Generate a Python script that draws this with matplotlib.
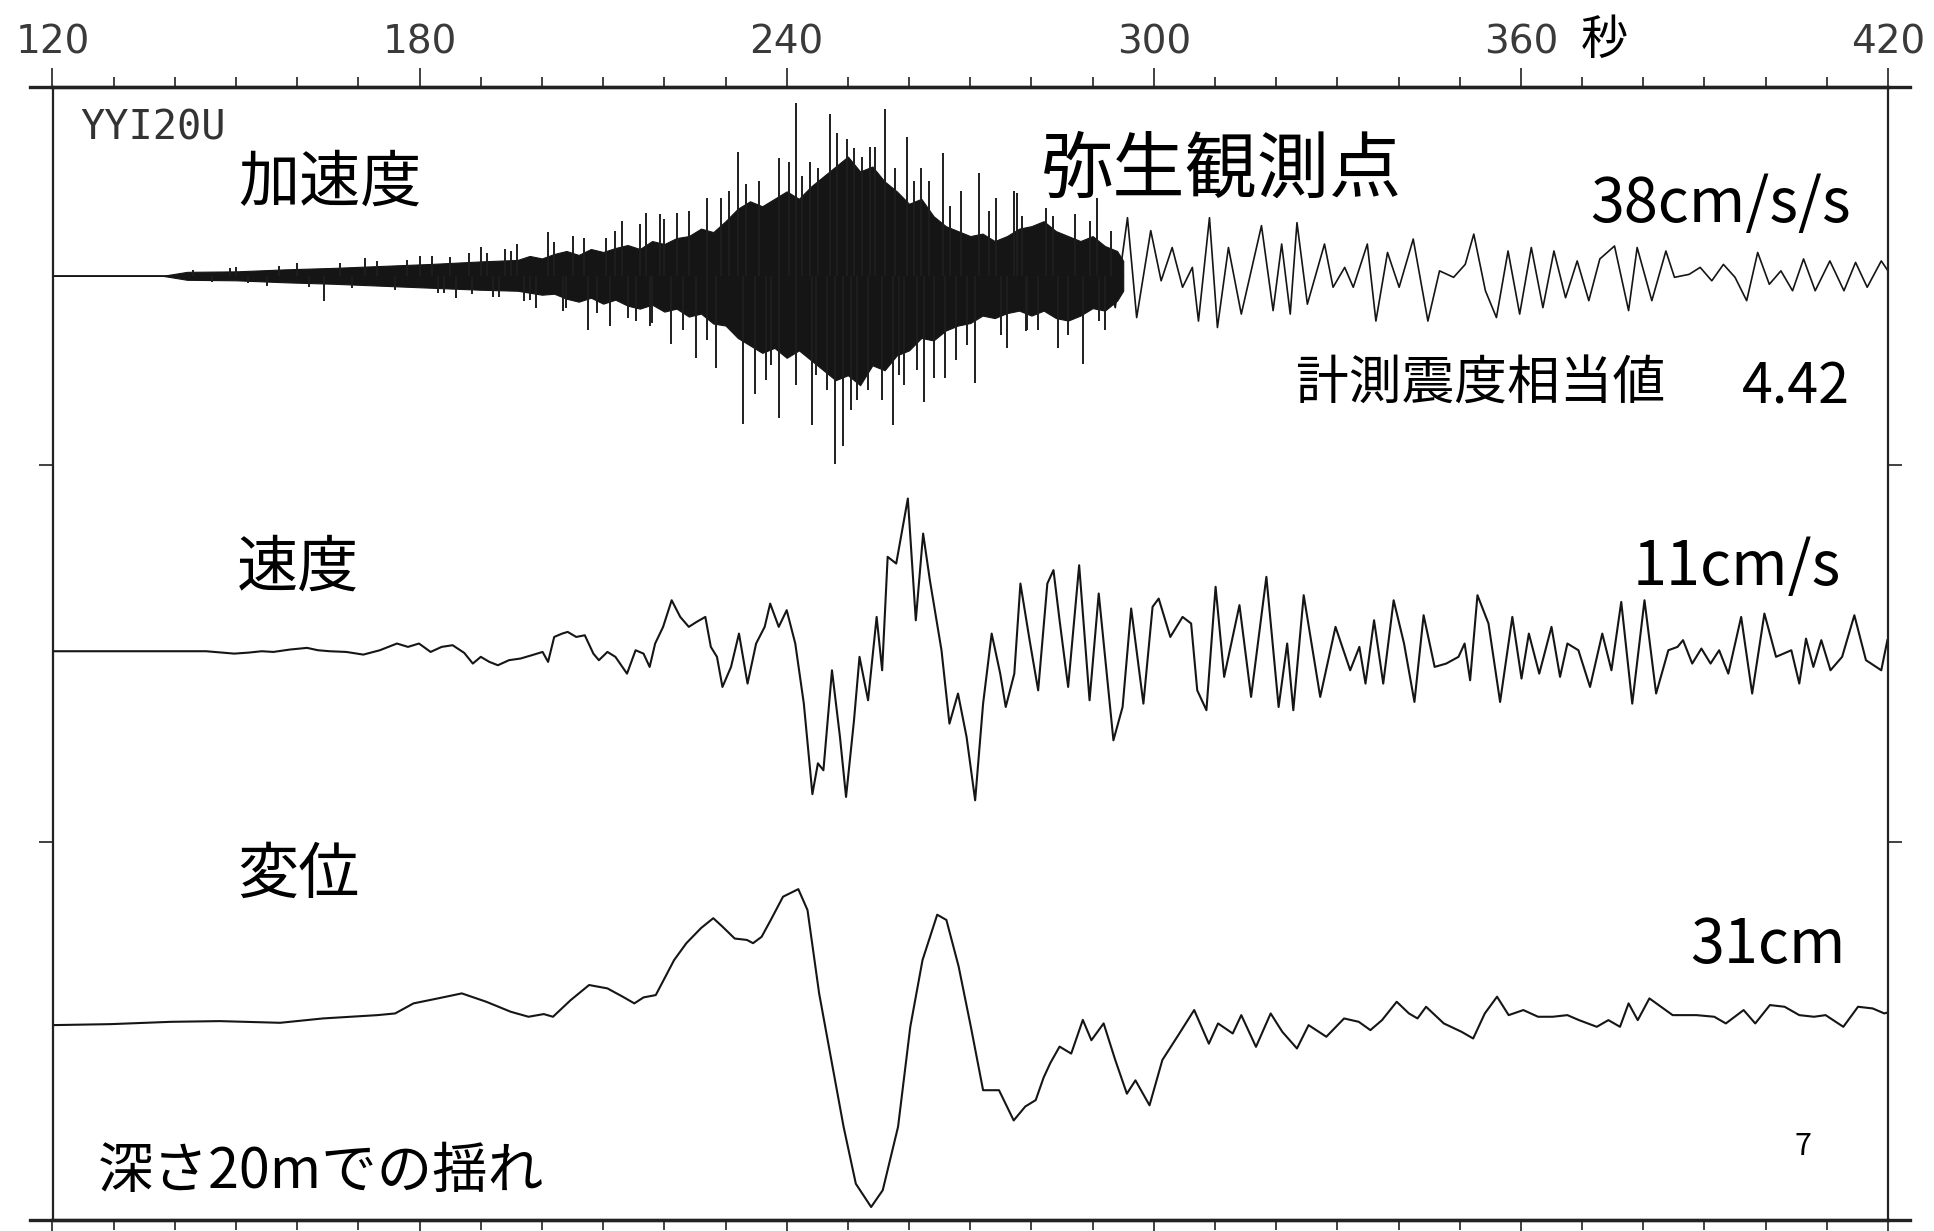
import numpy as np
import matplotlib.pyplot as plt

plt.rcParams['font.family'] = ['Noto Sans CJK JP', 'DejaVu Sans']

# ---- acceleration (cm/s/s) ----
# dense part: envelope of the black band
acc_env_t = [120, 138, 142, 150, 158, 166, 174, 182, 190, 196, 198, 200, 202, 204, 206,
             208, 210, 212, 214, 216, 218, 220, 222, 224, 226, 228, 230, 232, 234, 236,
             238, 240, 242, 244, 246, 248, 250, 252, 254, 256, 258, 260, 262, 264, 266,
             268, 270, 272, 274, 276, 278, 280, 282, 284, 286, 288, 290, 292, 294, 295]
acc_env_hi = [0, 0, 0.8, 0.9, 1.3, 1.6, 2.0, 2.4, 2.9, 3.2, 4.0, 3.5, 4.4, 5.0, 4.2,
              5.4, 4.8, 5.6, 6.2, 5.4, 7.0, 6.4, 7.6, 8.0, 9.5, 8.8, 11.0, 13.5, 15.0, 14.0,
              15.5, 17.0, 15.5, 18.0, 20.0, 22.0, 24.0, 21.0, 22.0, 19.0, 17.0, 14.5, 15.5, 12.0, 10.0,
              9.0, 8.0, 8.5, 7.0, 8.0, 9.5, 10.0, 11.0, 9.0, 8.0, 7.0, 8.0, 6.0, 5.0, 3.0]
acc_env_lo = [0, 0, -0.8, -0.9, -1.3, -1.6, -2.0, -2.4, -2.8, -3.0, -3.4, -3.8, -3.6, -4.6, -5.2,
              -4.4, -5.6, -4.8, -6.0, -6.6, -5.8, -7.2, -6.6, -8.2, -7.6, -9.6, -10.0, -12.5, -14.0, -15.5,
              -14.5, -16.5, -15.0, -17.0, -19.0, -21.0, -20.0, -22.0, -18.0, -19.0, -16.0, -15.0, -12.5, -13.0, -11.0,
              -10.0, -9.5, -8.0, -8.5, -7.5, -7.0, -8.0, -7.0, -8.5, -9.0, -8.0, -6.5, -7.0, -5.0, -3.0]
# single spikes sticking out of the band
acc_spk_t = [150, 155, 160, 164.3, 171, 180, 186, 190, 196, 199, 201, 203.5, 213, 217, 222,
             241.5, 247.0, 256.0, 232.0, 238.8, 240.4, 248.3, 249.8, 251.0, 253.6, 254.5,
             259.6, 265.5, 271.4, 277.6, 274.2, 282.4, 290.7, 226.9, 229.3, 230.5, 233.4,
             243.8, 245.1, 257.7, 262.0, 268.5, 263.2, 219.3, 206.8, 210.5,
             247.9, 232.9, 238.8, 244.1, 249.2, 251.5, 257.4, 255.6, 262.5, 265.9, 270.8,
             288.5, 284.3, 276.0, 279.3, 292.0, 225.1, 228.4, 234.9, 236.6, 241.6, 246.6,
             253.3, 259.1, 264.1, 267.6, 207.6, 211.2, 215.3, 221.1, 217.6,
             277.2, 287.1, 279.1,
             182, 184, 188, 192, 194, 197, 202, 204, 205, 209, 212, 214, 216, 218, 220,
             223, 224, 227, 235.5, 237.5, 242.5, 244.8, 250.5, 252.3, 258.3, 260.8, 261.3,
             266.7, 269.5, 273, 275, 278.5, 281, 283.5, 286, 289.5, 291, 293,
             143, 146, 149, 152, 157, 162, 167, 169, 173, 176, 178, 183, 185, 188.5, 191,
             193, 195, 198]
acc_spk_v = [1.8, -2.0, 2.5, -5.0, 3.5, 4.0, -4.5, 5.9, 6.5, -6.5, 8.9, -7.0, 11, 12.6, 12.6,
             34.7, 32.6, 33.6, 25.0, 23.7, 23.0, 28.8, 27.5, 25.7, 26.0, 26.0,
             28.0, 24.7, 20.7, 16.7, 15.7, 13.7, 15.7, 15.7, 15.7, 17.0, 18.5,
             23.0, 21.7, 21.7, 21.7, 17.0, 19.0, 12.5, 7.6, 7.6,
             -37.8, -29.8, -28.6, -30.0, -34.2, -25.0, -30.0, -25.0, -25.4, -20.5, -21.5,
             -17.7, -14.5, -14.5, -11.0, -11.0, -16.5, -18.5, -23.8, -21.0, -22.0, -23.0,
             -23.0, -22.0, -20.5, -17.0, -11.0, -10.0, -9.0, -13.7, -10.0,
             17.1, 12.4, -11.1,
             3.9, -3.5, 4.6, -4.2, 5.5, -5.0, 6.8, -6.5, 8.0, -7.5, 9.0, -8.5, 10.5, -9.5, 11.5,
             -11, 13, -13, 19, -18, 20, -20, -27, 24, -20, 19, -19,
             14, -14, 13, -12, 12, -11, 12, -12, 11, -9, 9,
             1.2, -1.3, 1.5, -1.4, 2.0, -2.2, 2.6, -2.4, 3.0, -2.8, 3.2, -3.4, 3.8, -3.6, 4.6,
             -4.2, 5.0, -4.8]
# later part: individual swings
acc_tail_t = [290.0, 291.5, 293.7, 295.7, 297.2, 299.5, 301.2, 303.0, 304.7, 306.3, 307.3, 309.1,
              310.4, 312.2, 314.3, 317.6, 319.5, 320.9, 322.3, 323.4, 325.1, 327.9, 329.3,
              331.2, 332.6, 334.9, 336.3, 338.2, 340.1, 342.4, 344.8, 346.7, 349.0, 350.9,
              352.3, 354.2, 356.0, 357.9, 359.8, 361.7, 363.6, 365.4, 367.3, 369.2, 371.1,
              372.9, 375.3, 377.6, 379.0, 381.4, 383.7, 385.1, 387.5, 389.3, 391.2, 393.1,
              395.0, 396.9, 398.7, 400.6, 402.5, 404.4, 406.2, 408.1, 410.5, 412.8, 414.7,
              416.6, 418.9, 420.0]
acc_tail_v = [-5.0, 3.0, -6.4, 11.7, -8.4, 9.1, -1.0, 5.7, -2.3, 1.7, -9.1, 11.7,
              -10.4, 5.7, -7.7, 10.1, -7.0, 6.4, -7.7, 10.7, -5.7, 6.4, -2.3,
              1.7, -2.3, 6.4, -9.1, 4.7, -2.3, 7.4, -9.1, 1.0, -0.3, 2.3,
              8.4, -3.0, -8.4, 5.0, -7.7, 5.7, -6.4, 5.0, -4.4, 3.0, -5.0,
              3.4, 6.0, -7.0, 5.7, -5.0, 5.0, -0.3, 0.3, 1.7, -1.0, 2.3,
              -0.3, -5.0, 4.7, -1.7, 1.0, -3.0, 3.4, -3.0, 3.0, -3.0, 2.7,
              -2.3, 3.0, 1.0]

# ---- velocity (cm/s) ----
vel_t = [120, 145.1, 149.7, 152.0, 154.2, 156.1, 158.8, 161.6, 163.4, 165.3, 168.0, 170.8,
         173.5, 176.3, 178.1, 179.9, 181.8, 183.6, 185.4, 187.3, 188.7, 190.0, 191.4, 192.8,
         194.6, 196.5, 198.3, 200.1, 201.0, 202.0, 203.3, 204.2, 205.6, 207.0, 208.4, 209.3,
         210.7, 212.0, 213.9, 215.3, 216.6, 217.6, 218.5, 219.8, 221.2, 222.6, 224.0, 225.3,
         226.7, 227.6, 228.6, 229.5, 230.9, 232.2, 233.6, 235.0, 236.4, 237.3, 238.7, 240.0,
         241.4, 242.8, 244.2, 245.1, 246.0, 247.4, 248.7, 249.7, 251.0, 251.9, 253.3, 254.7,
         255.6, 256.5, 257.9, 259.8, 261.1, 262.3, 263.4, 265.3, 266.6, 268.0, 269.4, 270.8,
         272.1, 273.5, 274.9, 275.8, 277.2, 278.2, 279.7, 281.1, 282.6, 283.6, 284.6, 286.0,
         287.8, 289.5, 291.0, 293.4, 294.9, 296.3, 298.3, 299.8, 300.8, 302.7, 304.7, 306.1,
         307.1, 308.6, 310.1, 311.5, 314.0, 315.9, 318.4, 320.4, 321.8, 322.8, 324.5, 327.2,
         329.7, 332.1, 333.6, 334.6, 336.0, 337.5, 339.2, 340.9, 342.6, 344.1, 345.9, 347.8,
         349.8, 350.8, 351.7, 352.9, 354.7, 356.6, 358.6, 360.1, 361.3, 363.0, 365.0, 366.4,
         367.6, 369.4, 371.3, 373.3, 374.8, 376.4, 378.2, 380.2, 382.1, 384.1, 385.6, 386.5,
         388.0, 389.5, 391.0, 392.4, 393.9, 396.0, 397.8, 399.8, 401.7, 404.2, 405.5, 406.6,
         407.8, 409.1, 410.6, 412.5, 414.5, 416.4, 418.9, 419.9]
vel_v = [0, 0, -0.17, -0.1, 0, -0.05, 0.12, 0.24, 0.07, 0, -0.05, -0.24,
         0.07, 0.55, 0.31, 0.55, -0.05, 0.31, 0.43, -0.12, -0.88, -0.4, -0.76, -1.0,
         -0.64, -0.52, -0.29, -0.05, -0.76, 1.02, 1.26, 1.38, 1.02, 1.14, -0.17, -0.64,
         -0.05, -0.4, -1.6, 0.07, -0.17, -1.12, 0.55, 1.74, 3.64, 2.45, 1.74, 2.1,
         2.45, 0.31, -0.4, -2.55, -1.12, 1.26, -2.31, 0.55, 1.74, 3.4, 1.74, 2.93,
         0.55, -3.74, -10.2, -8.0, -8.5, -1.36, -6.1, -10.4, -4.93, -0.4, -3.5, 2.45,
         -1.36, 6.74, 6.26, 10.9, 2.21, 8.4, 5.07, 0.07, -5.17, -3.02, -6.12, -10.64,
         -3.74, 1.26, -1.6, -3.98, -1.6, 4.83, 0.79, -2.79, 4.83, 5.79, 2.21, -2.55,
         6.14, -3.5, 4.12, -6.36, -3.98, 3.05, -3.74, 3.17, 3.76, 1.02, 2.45, 1.98,
         -2.79, -4.21, 4.6, -1.83, 3.29, -3.26, 5.31, -3.98, 0.55, -4.21, 4.0, -3.26,
         1.74, -1.36, 0.31, -2.31, 2.21, -2.31, 3.64, 0.55, -3.62, 2.57, -1.12, -0.88,
         -0.4, 0.55, -2.07, 4.0, 1.98, -3.62, 2.45, -1.95, 1.26, -1.6, 1.74, -1.83,
         0.55, 0.07, -2.55, 1.26, -1.36, 3.52, -3.74, 3.64, -3.02, 0.07, 0.31, 0.79,
         -0.88, 0.19, -0.88, 0.07, -1.6, 2.45, -3.02, 2.69, -0.4, 0.07, -2.31, 0.9,
         -1.12, 0.79, -1.36, -0.4, 2.57, -0.64, -1.36, 0.79]

# ---- displacement (cm) ----
disp_t = [120, 129.5, 139.4, 147.3, 157.2, 164.2, 173.1, 176.0, 179.0, 183.0, 186.9, 190.9,
          194.9, 197.8, 200.3, 201.8, 204.7, 207.7, 210.7, 213.2, 215.1, 216.6, 218.6, 221.6,
          223.6, 226.0, 228.0, 229.5, 231.5, 233.5, 234.5, 235.9, 237.4, 239.4, 241.9, 243.4,
          245.3, 247.3, 249.3, 251.3, 253.8, 255.7, 258.2, 260.2, 262.2, 264.6, 266.1, 268.1,
          270.1, 272.1, 274.7, 277.1, 279.0, 280.7, 282.0, 283.1, 284.6, 286.5, 288.4, 289.8,
          291.8, 293.7, 295.6, 297.0, 299.3, 301.4, 304.2, 306.6, 309.0, 310.5, 312.9, 314.3,
          316.7, 319.1, 321.0, 323.4, 325.3, 328.2, 331.1, 333.5, 335.4, 337.3, 339.7, 341.7,
          343.1, 344.5, 347.4, 350.3, 352.2, 354.1, 356.1, 358.0, 360.4, 362.8, 365.2, 367.6,
          369.5, 372.4, 374.3, 376.2, 377.6, 379.1, 381.0, 382.9, 384.8, 388.7, 391.6, 393.5,
          396.4, 398.3, 400.7, 403.1, 405.5, 407.9, 409.8, 412.7, 415.1, 417.5, 419.4, 420.0]
disp_v = [0, 0.17, 0.57, 0.69, 0.4, 1.15, 1.72, 2.01, 3.74, 4.6, 5.46, 4.02,
          2.3, 1.44, 1.9, 1.44, 4.31, 6.9, 6.32, 4.89, 3.74, 4.77, 5.17, 11.2,
          14.1, 16.7, 18.4, 16.95, 14.9, 14.66, 14.1, 15.2, 18.1, 22.1, 23.4, 19.8,
          5.46, -6.03, -17.5, -27.3, -31.3, -28.4, -17.5, -0.29, 11.2, 19.0, 18.1, 10.1,
          -0.29, -11.2, -11.2, -16.4, -14.0, -12.9, -9.0, -6.5, -3.7, -4.9, 0.9, -2.6,
          0.3, -6.0, -11.8, -9.5, -13.8, -6.0, -1.4, 2.6, -3.2, 0.29, -1.44, 1.72,
          -3.74, 2.01, -1.15, -4.02, 0, -2.0, 1.15, 0.57, -0.86, 0.86, 4.02, 2.01,
          1.15, 3.16, 0.29, -1.15, -2.3, 2.01, 4.89, 1.72, 2.59, 1.44, 1.44, 1.72,
          0.86, -0.29, 0.86, -0.29, 3.74, 0.86, 4.6, 3.16, 1.72, 1.72, 1.44, 0.29,
          2.59, 0.29, 3.45, 3.16, 1.72, 1.44, 1.72, -0.29, 3.16, 2.87, 2.01, 2.2]

sec_ticks = [120, 180, 240, 300, 360, 420]

# trace placement inside the 3-panel frame (panel height = 1)
acc_off, acc_gain = 2.5, 0.5 / 38
vel_off, vel_gain = 1.506, 0.408 / 11
disp_off, disp_gain = 0.516, 0.477 / 31
ink = '#151515'

W, H = 1934, 1231
fig = plt.figure(figsize=(W / 100, H / 100), dpi=100)
ax = fig.add_axes([52.5 / W, 1 - 1220 / H, (1888 - 52.5) / W, (1220 - 87) / H])
ax.set_xlim(120, 420)
ax.set_ylim(0, 3)

# acceleration
et = np.array(acc_env_t)
ax.fill_between(et, acc_off + np.array(acc_env_lo) * acc_gain,
                acc_off + np.array(acc_env_hi) * acc_gain, color=ink, lw=0.8)
ax.plot(et, np.full(len(et), acc_off), color=ink, lw=1.2)
ax.vlines(acc_spk_t, acc_off, acc_off + np.array(acc_spk_v) * acc_gain, color='#1e1e1e', lw=1.4)
ax.plot(acc_tail_t, acc_off + np.array(acc_tail_v) * acc_gain, color=ink, lw=1.2,
        solid_joinstyle='round')

# velocity and displacement
ax.plot(vel_t, vel_off + np.array(vel_v) * vel_gain, color=ink, lw=1.5, solid_joinstyle='round')
ax.plot(disp_t, disp_off + np.array(disp_v) * disp_gain, color=ink, lw=1.5, solid_joinstyle='round')

# frame and ticks
for s in ['top', 'bottom']:
    ax.spines[s].set_linewidth(2.4)
for s in ['left', 'right']:
    ax.spines[s].set_linewidth(1.6)
for s in ax.spines.values():
    s.set_color('#222222')
for yy in [0, 1]:
    ax.plot([-0.012, 1.012], [yy, yy], transform=ax.transAxes, color='#222222',
            lw=2.4, clip_on=False)

ax.set_xticks(sec_ticks)
ax.set_xticks(np.arange(120, 421, 10), minor=True)
ax.set_yticks([1, 2])
ax.set_yticklabels([])
ax.tick_params(axis='x', which='both', top=True, bottom=True, labeltop=True,
               labelbottom=False, direction='out', color='#333333', width=1.3)
ax.tick_params(axis='x', which='major', length=13.5, pad=5, labelsize=28,
               labelcolor='#3a3a3a')
ax.tick_params(axis='x', which='minor', length=7)
ax.tick_params(axis='y', which='both', left=True, right=True, direction='out',
               length=10, width=1.3, color='#333333')
for lab in ax.get_xticklabels():
    lab.set_fontfamily('DejaVu Sans')


def put(x, y, s, size, ha='left', **kw):
    fig.text(x / W, 1 - y / H, s, fontsize=size, ha=ha, va='baseline', **kw)


put(80, 140, 'YYI20U', 29, family='DejaVu Sans Mono', color='#333333')
put(238, 201, '加速度', 44)
put(1041, 192, '弥生観測点', 52)
put(1851, 222, '38cm/s/s', 44, ha='right')
put(1296, 399, '計測震度相当値', 38)
put(1850, 403, '4.42', 40, ha='right')
put(237, 586, '速度', 44)
put(1841, 585, '11cm/s', 44, ha='right')
put(237, 893, '変位', 44)
put(1846, 963, '31cm', 44, ha='right')
put(98, 1188, '深さ20mでの揺れ', 40)
put(1803, 1155, '7', 22, ha='center')
put(1581, 54, '秒', 34)

fig.savefig('out.png', dpi=100, facecolor='white')
